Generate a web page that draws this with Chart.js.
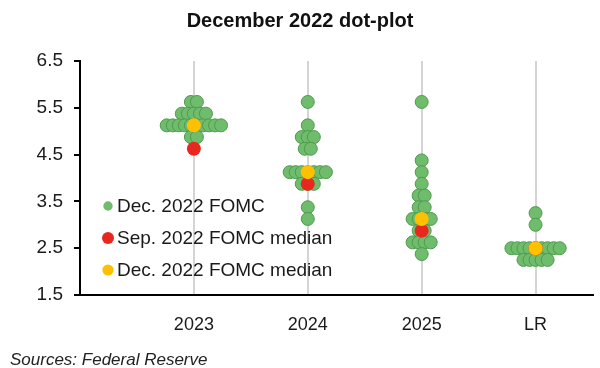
<!DOCTYPE html>
<html>
<head>
<meta charset="utf-8">
<script src="https://cdn.jsdelivr.net/npm/chart.js@4.4.0/dist/chart.umd.min.js"></script>
<style>
  html, body { margin: 0; padding: 0; background: #fff; }
  #wrap { width: 600px; height: 368px; position: relative; }
</style>
</head>
<body>
<div id="wrap"><canvas id="chart1" width="600" height="368"></canvas></div>
<script>
// categories on the x axis
let categories = ['2023', '2024', '2025', 'LR'];

// Dec. 2022 FOMC participant dots, one value per dot
let dots2023 = [5.625, 5.625,
    5.375, 5.375, 5.375, 5.375, 5.375,
    5.125, 5.125, 5.125, 5.125, 5.125, 5.125, 5.125, 5.125, 5.125, 5.125,
    4.875, 4.875];
let dots2024 = [5.625, 5.125,
    4.875, 4.875, 4.875,
    4.625, 4.625,
    4.125, 4.125, 4.125, 4.125, 4.125, 4.125, 4.125,
    3.875, 3.875, 3.875,
    3.375, 3.125];
let dots2025 = [5.625, 4.375, 4.125, 3.875,
    3.625, 3.625,
    3.375, 3.375,
    3.125, 3.125, 3.125, 3.125,
    2.875, 2.875,
    2.625, 2.625, 2.625, 2.625,
    2.375];
let dotsLR = [3.25, 3.0,
    2.5, 2.5, 2.5, 2.5, 2.5, 2.5, 2.5, 2.5, 2.5,
    2.25, 2.25, 2.25, 2.25, 2.25];

// medians
let sepMedian = [4.625, 3.875, 2.875, 2.5];
let decMedian = [5.125, 4.125, 3.125, 2.5];

// y ticks
let yMin = 1.5, yMax = 6.5, yStep = 1;

let green = '#70bc6d', greenEdge = '#4f9a4d', red = '#e8281f', yellow = '#ffc000';
let font = "'Liberation Sans', Arial, sans-serif";

// spread dots that share a value side by side around the category line
function spread(values, catIndex) {
    let gap = 0.053;
    let counts = {}, seen = {};
    values.forEach(function(v) { counts[v] = (counts[v] || 0) + 1; });
    return values.map(function(v) {
        let i = seen[v] || 0;
        seen[v] = i + 1;
        return { x: catIndex + 1 + (i - (counts[v] - 1) / 2) * gap, y: v };
    });
}

let allDots = [dots2023, dots2024, dots2025, dotsLR];
let greenPoints = [];
allDots.forEach(function(list, k) { greenPoints = greenPoints.concat(spread(list, k)); });

let sepPoints = sepMedian.map(function(v, k) { return { x: k + 1, y: v }; });
let decPoints = decMedian.map(function(v, k) { return { x: k + 1, y: v }; });

// title, legend inside the plot, and source line
let extras = {
    id: 'extras',
    afterDraw: function(chart) {
        let c = chart.ctx;
        c.save();
        c.fillStyle = '#111';
        c.textAlign = 'center';
        c.textBaseline = 'middle';
        c.font = 'bold 20px ' + font;
        c.fillText('December 2022 dot-plot', 300, 21);

        let ys = [206, 238, 270];
        let sizes = [4.7, 6, 5.6];
        chart.data.datasets.forEach(function(ds, i) {
            c.beginPath();
            c.arc(108, ys[i], sizes[i], 0, Math.PI * 2);
            c.fillStyle = ds.backgroundColor;
            c.fill();
            c.fillStyle = '#1a1a1a';
            c.textAlign = 'left';
            c.font = '19px ' + font;
            c.fillText(ds.label, 117, ys[i] + 1);
        });

        c.font = 'italic 17px ' + font;
        c.fillStyle = '#222';
        c.fillText('Sources: Federal Reserve', 10, 360);
        c.restore();
    }
};

var ctx = document.getElementById('chart1').getContext('2d');
var chart = new Chart(ctx, {
    type: 'scatter',
    data: {
        datasets: [{
            label: 'Dec. 2022 FOMC',
            data: greenPoints,
            backgroundColor: green,
            borderColor: greenEdge,
            borderWidth: 1,
            pointRadius: 6.5,
            pointHoverRadius: 6.5,
            order: 3
        }, {
            label: 'Sep. 2022 FOMC median',
            data: sepPoints,
            backgroundColor: red,
            borderColor: red,
            borderWidth: 0,
            pointRadius: 7,
            order: 2
        }, {
            label: 'Dec. 2022 FOMC median',
            data: decPoints,
            backgroundColor: yellow,
            borderColor: yellow,
            borderWidth: 0,
            pointRadius: 7,
            order: 1
        }]
    },
    plugins: [extras],
    options: {
        responsive: false,
        animation: false,
        layout: { padding: { top: 61, right: 6, left: 0, bottom: 0 } },
        plugins: {
            legend: { display: false },
            title: { display: false },
            tooltip: { enabled: false }
        },
        scales: {
            x: {
                type: 'linear',
                min: 0,
                max: 4.5,
                afterFit: function(s) { s.height = 73; },
                afterBuildTicks: function(s) {
                    s.ticks = categories.map(function(c, i) { return { value: i + 1 }; });
                },
                ticks: {
                    callback: function(v) { return categories[v - 1]; },
                    font: { family: font, size: 18 },
                    color: '#1a1a1a',
                    padding: 19,
                    maxRotation: 0
                },
                grid: {
                    color: '#d4d4d4',
                    lineWidth: 2,
                    drawTicks: false
                },
                border: { color: '#000', width: 2 }
            },
            y: {
                min: yMin,
                max: yMax,
                afterFit: function(s) { s.width = 80; },
                ticks: {
                    stepSize: yStep,
                    callback: function(v) { return v.toFixed(1); },
                    font: { family: font, size: 19 },
                    color: '#1a1a1a',
                    padding: 11
                },
                grid: {
                    drawOnChartArea: false,
                    color: '#000',
                    lineWidth: 2,
                    tickLength: 6
                },
                border: { color: '#000', width: 2 }
            }
        }
    }
});
</script>
</body>
</html>
